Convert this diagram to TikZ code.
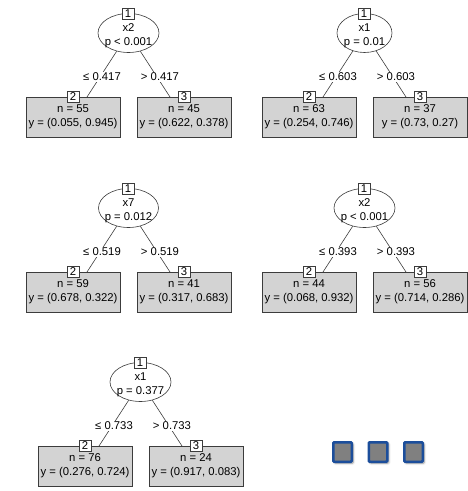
\documentclass[tikz,border=0pt]{standalone}
\usepackage{fontspec}
\setmainfont{Liberation Sans}
\usetikzlibrary{shapes.geometric,shadows.blur}
\definecolor{leafgray}{HTML}{D3D3D3}
\definecolor{linegray}{HTML}{3C3C3C}
\definecolor{sqblue}{HTML}{1C4E9B}
\definecolor{sqgray}{HTML}{808080}
\tikzset{
 every node/.style={font=\fontsize{11.3}{14}\selectfont},
 splitnode/.style={ellipse, draw=linegray, fill=white, line width=0.6pt, minimum height=39pt, inner sep=0pt},
 splittext/.style={inner sep=0pt, align=center},
 idbox/.style={rectangle, draw=linegray, fill=white, line width=0.6pt, minimum width=12pt, minimum height=11pt, inner sep=0pt},
 leafbox/.style={rectangle, draw=linegray, fill=leafgray, line width=0.6pt, minimum width=94pt, minimum height=40pt, inner sep=0pt, align=center},
 edgelab/.style={fill=white, inner sep=0.6pt},
 branch/.style={draw=linegray, line width=0.6pt},
 navsq/.style={rectangle, draw=sqblue, fill=sqgray, line width=2.5pt, minimum width=18.5pt, minimum height=19.5pt, rounded corners=1pt,
   blur shadow={shadow xshift=1.5pt, shadow yshift=-1.5pt, shadow blur radius=2pt, shadow opacity=45}}
}
\newcommand\ctreedraw[9]{%
\begin{scope}[shift={#2}]
\node[splitnode, minimum width=#4pt] (#1s) at (128.5,33) {};
\node[splittext] (#1st) at (128.5,35.5) {#3};
\coordinate (#1la) at (87,97);
\coordinate (#1ra) at (170,97);
\draw[branch] (#1s) -- (#1la);
\draw[branch] (#1s) -- (#1ra);
\node[edgelab] (#1lt) at (102,77) {≤ #5};
\node[edgelab] (#1rt) at (160,77) {> #5};
\node[leafbox] (#1l) at (73,117) {n = #6\\y = #7};
\node[leafbox] (#1r) at (184,117) {n = #8\\y = #9};
\node[idbox] (#1na) at (128,14) {1};
\node[idbox] (#1nb) at (73,97) {2};
\node[idbox] (#1nc) at (184,97) {3};
\end{scope}}
\begin{document}
\begin{tikzpicture}[x=1pt,y=-1pt]
\useasboundingbox (0,0) rectangle (467,491);
\ctreedraw{ta}{(0,0)}{x2\\p < 0.001}{61}{0.417}{55}{(0.055, 0.945)}{45}{(0.622, 0.378)}
\ctreedraw{tb}{(236,0)}{x1\\p = 0.01}{55}{0.603}{63}{(0.254, 0.746)}{37}{(0.73, 0.27)}
\ctreedraw{tc}{(0,175)}{x7\\p = 0.012}{60}{0.519}{59}{(0.678, 0.322)}{41}{(0.317, 0.683)}
\ctreedraw{td}{(236,175)}{x2\\p < 0.001}{61}{0.393}{44}{(0.068, 0.932)}{56}{(0.714, 0.286)}
\ctreedraw{te}{(12,349)}{x1\\p = 0.377}{61}{0.733}{76}{(0.276, 0.724)}{24}{(0.917, 0.083)}
\node[navsq] (sqa) at (342.5,452) {};
\node[navsq] (sqb) at (378,452) {};
\node[navsq] (sqc) at (413.5,452) {};
\end{tikzpicture}
\end{document}
